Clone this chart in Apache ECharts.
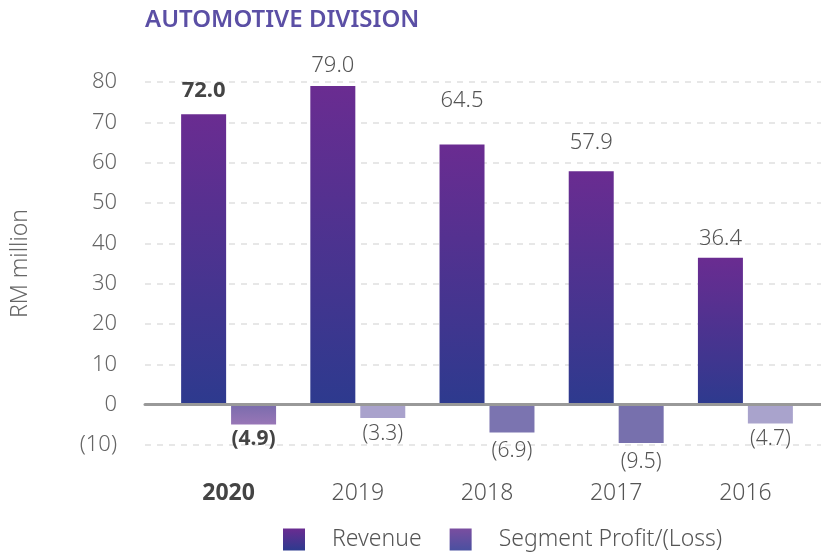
<!DOCTYPE html>
<html>
<head>
<meta charset="utf-8">
<script src="https://cdn.jsdelivr.net/npm/echarts@6/dist/echarts.min.js"></script>
<style>
  html, body { margin: 0; padding: 0; background: #fff; }
  #chart { width: 821px; height: 557px; }
</style>
</head>
<body>
<div id="chart"></div>
<script>
// data
var years = ['2020', '2019', '2018', '2017', '2016'];
var revenue = [72.0, 79.0, 64.5, 57.9, 36.4];
var profit = [-4.9, -3.3, -6.9, -9.5, -4.7];
var yTicks = [-10, 0, 10, 20, 30, 40, 50, 60, 70, 80];

// label offsets above / below bars, as in the source
var revLabelGap = [13, 9, 33, 17, 8];
var lossLabelGap = [4, 6, 8, 9, 5];
var lossColors = [
  { top: '#7a6cad', bottom: '#9876b6' },
  { top: '#a9a2cc', bottom: '#a9a2cc' },
  { top: '#7b74b0', bottom: '#7b74b0' },
  { top: '#7770ad', bottom: '#7770ad' },
  { top: '#a9a3cc', bottom: '#a9a3cc' }
];

var font = 'Noto Sans';

function grad(top, bottom) {
  return new echarts.graphic.LinearGradient(0, 0, 0, 1, [
    { offset: 0, color: top },
    { offset: 1, color: bottom }
  ]);
}

var revColor = grad('#6a2c91', '#2d3a8e');

var myChart = echarts.init(document.getElementById('chart'));

var option = {
  animation: false,
  title: {
    text: 'AUTOMOTIVE DIVISION',
    left: 140,
    top: 3,
    textStyle: { color: '#5b4fa5', fontSize: 24, fontWeight: 600, fontFamily: font }
  },
  legend: {
    left: 278,
    top: 523,
    itemWidth: 22,
    itemHeight: 22,
    itemGap: 28,
    icon: 'rect',
    textStyle: { color: '#555', fontSize: 23, fontFamily: font, fontWeight: 300, padding: [0, 0, 0, 22] },
    data: [
      { name: 'Revenue', itemStyle: { color: revColor } },
      { name: 'Segment Profit/(Loss)', itemStyle: { color: grad('#7a4ea0', '#4a50a0') } }
    ]
  },
  grid: [
    { left: 145, right: 0, top: 82, bottom: 112, outerBoundsMode: 'none' },
    { left: 164, right: 11, top: 82, bottom: 112, outerBoundsMode: 'none' }
  ],
  xAxis: [
    {
      gridIndex: 0,
      type: 'value',
      min: 0,
      max: 1,
      z: 5,
      axisLine: { show: true, onZero: true, lineStyle: { color: '#999', width: 3 } },
      axisTick: { show: false },
      axisLabel: { show: false },
      splitLine: { show: false }
    },
    {
      gridIndex: 1,
      type: 'category',
      data: years,
      axisLine: { show: false, onZero: false },
      axisTick: { show: false },
      axisLabel: {
        margin: 37,
        fontSize: 23,
        fontFamily: font,
        formatter: function (v, i) {
          return i === 0 ? '{b|' + v + '}' : '{n|' + v + '}';
        },
        rich: {
          b: { fontSize: 23, fontWeight: 'bold', color: '#444', fontFamily: font },
          n: { fontSize: 23, fontWeight: 300, color: '#555', fontFamily: font }
        }
      }
    }
  ],
  yAxis: [
    {
      gridIndex: 0,
      type: 'value',
      min: yTicks[0],
      max: yTicks[yTicks.length - 1],
      interval: 10,
      name: 'RM million',
      nameLocation: 'middle',
      nameRotate: 90,
      nameGap: 113,
      nameTextStyle: { color: '#666', fontSize: 23, fontFamily: font, fontWeight: 300 },
      axisLine: { show: false },
      axisTick: { show: false },
      axisLabel: {
        margin: 28,
        color: '#666',
        fontSize: 22,
        fontFamily: font,
        fontWeight: 300,
        formatter: function (v) { return v < 0 ? '(' + Math.abs(v) + ')' : String(v); }
      },
      splitLine: { show: true, lineStyle: { color: '#e0e0e0', type: [6, 6], width: 1.5 } }
    },
    {
      gridIndex: 1,
      type: 'value',
      min: yTicks[0],
      max: yTicks[yTicks.length - 1],
      interval: 10,
      show: false,
      splitLine: { show: false }
    }
  ],
  series: [
    {
      name: 'Revenue',
      type: 'bar',
      xAxisIndex: 1,
      yAxisIndex: 1,
      barWidth: 45,
      barGap: '11%',
      itemStyle: { color: revColor },
      data: revenue.map(function (v, i) {
        return {
          value: v,
          label: {
            show: true,
            position: 'top',
            distance: revLabelGap[i],
            fontSize: 22,
            fontFamily: font,
            fontWeight: i === 0 ? 'bold' : 300,
            color: i === 0 ? '#444' : '#555',
            formatter: function (p) { return p.value.toFixed(1); }
          }
        };
      })
    },
    {
      name: 'Segment Profit/(Loss)',
      type: 'bar',
      xAxisIndex: 1,
      yAxisIndex: 1,
      barWidth: 45,
      data: profit.map(function (v, i) {
        return {
          value: v,
          itemStyle: { color: grad(lossColors[i].top, lossColors[i].bottom) },
          label: {
            show: true,
            position: 'bottom',
            distance: lossLabelGap[i],
            fontSize: 21,
            fontFamily: font,
            fontWeight: i === 0 ? 'bold' : 300,
            color: i === 0 ? '#444' : '#555',
            formatter: function (p) { return '(' + Math.abs(p.value).toFixed(1) + ')'; }
          }
        };
      })
    }
  ]
};

myChart.setOption(option);
</script>
</body>
</html>
